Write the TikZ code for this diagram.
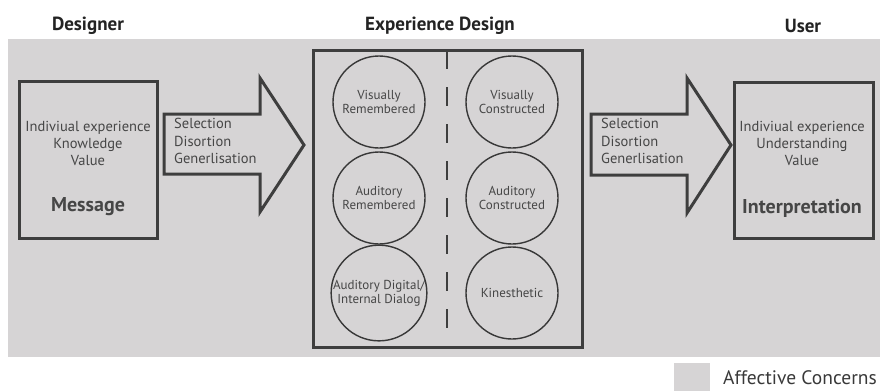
\documentclass[tikz,border=0pt]{standalone}
\usepackage{fontspec}
\setmainfont{PT Sans}
\definecolor{bg}{RGB}{214,212,213}
\definecolor{ink}{RGB}{62,62,62}
\definecolor{txt}{RGB}{70,70,70}
\definecolor{head}{RGB}{35,35,35}
\begin{document}
\begin{tikzpicture}[x=1pt,y=-1pt,
  title/.style={font=\fontsize{19}{22}\selectfont\bfseries, text=head, inner sep=0pt},
  frame/.style={draw=ink, line width=3pt, inner sep=0pt},
  body/.style={font=\fontsize{14.5}{17}\selectfont, text=txt, align=center, inner sep=0pt},
  arrowtext/.style={font=\fontsize{14.5}{17.5}\selectfont, text=txt, align=left, inner sep=0pt, anchor=north west},
  big/.style={font=\fontsize{20}{23}\selectfont\bfseries, text=txt, inner sep=0pt},
  bubble/.style={draw=ink!90!black, line width=1.4pt, circle, minimum size=92pt, inner sep=0pt,
    font=\fontsize{13}{14.5}\selectfont, text=txt, align=center},
  shaft/.style={draw=ink, line width=3pt, line join=miter, fill=bg}
]
\useasboundingbox (0,0) rectangle (880,391);
\fill[bg] (8,39) rectangle (880,357);

% titles
\node[title] (tdes) at (88,26) {Designer};
\node[title] (texp) at (440,26) {Experience Design};
\node[title] (tuser) at (803,26) {User};

% left box
\node[frame, minimum width=138pt, minimum height=157pt] (msgbox) at (88,159.5) {};
\node[body] (msgtxt) at (88,143) {Indiviual experience\\Knowledge\\Value};
\node[big] (msg) at (88,207) {Message};

% left arrow
\draw[shaft] (164,114) -- (260,114) -- (260,78) -- (304,145) -- (260,212) -- (260,174) -- (164,174) -- cycle;
\node[arrowtext] (la) at (174,118) {Selection\\Disortion\\Generlisation};

% middle box
\node[frame, minimum width=269pt, minimum height=297pt] (mid) at (447.5,198.5) {};
\coordinate (dtop) at (447,50);
\coordinate (dbot) at (447,333);
\draw[ink, line width=2pt, dash pattern=on 19pt off 18pt] (dtop) -- (dbot);

\node[bubble] (vr) at (379,102) {Visually\\Remembered};
\node[bubble] (ar) at (379,198) {Auditory\\Remembered};
\node[bubble] (ad) at (379,293) {Auditory Digital/\\Internal Dialog};
\node[bubble] (vc) at (512,102) {Visually\\Constructed};
\node[bubble] (ac) at (512,198) {Auditory\\Constructed};
\node[bubble] (ki) at (512,293) {Kinesthetic};

% right arrow
\draw[shaft] (591,114) -- (687,114) -- (687,78) -- (731,145) -- (687,213) -- (687,175) -- (591,175) -- cycle;
\node[arrowtext] (ra) at (601,118) {Selection\\Disortion\\Generlisation};

% right box
\node[frame, minimum width=139pt, minimum height=156pt] (intbox) at (803.5,160) {};
\node[body] (inttxt) at (802,143) {Indiviual experience\\Understanding\\Value};
\node[big] (int) at (802,208) {Interpretation};

% legend
\fill[bg] (674,363) rectangle (710,391);
\node[font=\fontsize{19.5}{22}\selectfont, text=head!90!white, anchor=west, inner sep=0pt] (leg) at (723,378) {Affective Concerns};
\end{tikzpicture}
\end{document}
